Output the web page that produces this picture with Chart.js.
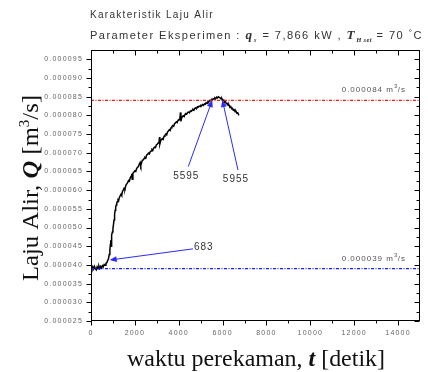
<!DOCTYPE html>
<html><head><meta charset="utf-8">
<script src="https://cdn.jsdelivr.net/npm/chart.js@4/dist/chart.umd.min.js"></script>
<style>html,body{margin:0;padding:0;background:#fff}#wrap{width:428px;height:372px}</style>
</head><body><div id="wrap"><canvas id="c" width="428" height="372"></canvas></div>
<script>
// ---- data ----
const timeSec = [0,40,80,120,160,200,240,280,320,360,400,440,480,520,560,600,640,680,720,760,800,830,860,885,900,915,930,950,975,1000,1025,1050,1075,1100,1125,1150,1175,1200,1230,1260,1290,1330,1370,1400,1430,1470,1510,1550,1590,1630,1670,1710,1750,1790,1830,1860,1880,1910,1950,2000,2040,2080,2120,2160,2200,2240,2270,2300,2340,2380,2420,2460,2500,2540,2580,2620,2660,2700,2740,2780,2820,2860,2900,2940,2980,3020,3060,3100,3125,3140,3170,3210,3250,3290,3330,3370,3410,3450,3490,3530,3570,3610,3650,3690,3730,3770,3810,3850,3890,3930,3970,4010,4050,4080,4100,4130,4170,4210,4250,4290,4330,4370,4410,4450,4490,4530,4570,4610,4650,4690,4730,4770,4810,4850,4890,4930,4970,5010,5050,5090,5130,5170,5210,5250,5290,5330,5370,5410,5450,5490,5530,5570,5610,5650,5690,5730,5770,5810,5850,5890,5930,5970,6010,6050,6090,6130,6170,6210,6250,6290,6330,6370,6410,6450,6490,6530,6570,6610,6650,6690,6730,6760];
const flowRate = [3.93e-5,3.88e-5,3.95e-5,3.89e-5,3.96e-5,3.90e-5,3.87e-5,3.95e-5,3.90e-5,3.97e-5,3.91e-5,3.96e-5,3.92e-5,3.98e-5,3.95e-5,4.01e-5,3.99e-5,4.04e-5,4.06e-5,4.12e-5,4.17e-5,4.28e-5,4.40e-5,4.55e-5,4.66e-5,4.50e-5,4.70e-5,4.80e-5,4.88e-5,4.97e-5,5.08e-5,5.20e-5,5.35e-5,5.46e-5,5.55e-5,5.60e-5,5.65e-5,5.69e-5,5.74e-5,5.72e-5,5.80e-5,5.85e-5,5.89e-5,5.86e-5,5.96e-5,6.00e-5,6.05e-5,6.03e-5,6.13e-5,6.17e-5,6.20e-5,6.26e-5,6.24e-5,6.33e-5,6.37e-5,6.44e-5,6.29e-5,6.45e-5,6.48e-5,6.52e-5,6.50e-5,6.58e-5,6.61e-5,6.63e-5,6.69e-5,6.74e-5,6.66e-5,6.72e-5,6.80e-5,6.81e-5,6.85e-5,6.88e-5,6.86e-5,6.94e-5,6.96e-5,6.99e-5,6.97e-5,7.03e-5,7.05e-5,7.09e-5,7.07e-5,7.13e-5,7.15e-5,7.14e-5,7.21e-5,7.23e-5,7.26e-5,7.28e-5,7.42e-5,7.24e-5,7.31e-5,7.35e-5,7.38e-5,7.36e-5,7.44e-5,7.47e-5,7.50e-5,7.48e-5,7.56e-5,7.58e-5,7.62e-5,7.60e-5,7.67e-5,7.70e-5,7.73e-5,7.71e-5,7.78e-5,7.80e-5,7.83e-5,7.81e-5,7.87e-5,7.89e-5,7.90e-5,8.08e-5,7.84e-5,7.93e-5,7.97e-5,7.99e-5,7.97e-5,8.03e-5,8.05e-5,8.04e-5,8.08e-5,8.09e-5,8.07e-5,8.12e-5,8.11e-5,8.14e-5,8.16e-5,8.14e-5,8.19e-5,8.20e-5,8.18e-5,8.23e-5,8.22e-5,8.25e-5,8.24e-5,8.27e-5,8.26e-5,8.29e-5,8.27e-5,8.31e-5,8.30e-5,8.34e-5,8.32e-5,8.37e-5,8.36e-5,8.40e-5,8.39e-5,8.43e-5,8.41e-5,8.45e-5,8.44e-5,8.47e-5,8.45e-5,8.49e-5,8.47e-5,8.50e-5,8.48e-5,8.47e-5,8.44e-5,8.45e-5,8.40e-5,8.41e-5,8.35e-5,8.37e-5,8.31e-5,8.32e-5,8.27e-5,8.28e-5,8.22e-5,8.24e-5,8.18e-5,8.19e-5,8.14e-5,8.15e-5,8.10e-5,8.11e-5,8.06e-5,8.07e-5,8.02e-5,8.03e-5];
const refHigh = 0.000084;
const refLow = 0.000039;
const refLabels = ['0.000084', '0.000039'];
const xMin = 0, xMax = 15000, xStep = 1000, xLabelStep = 2000, xLabelMax = 14000;
const yMin = 0.000025, yMax = 0.0000975, yStep = 0.0000025;
const arrowLabels = ['683', '5595', '5955'];
const arrowTailT = [4650, 4435, 6700];
const arrowTailQ = [0.0000443, 0.0000663, 0.0000654];
const arrowHeadT = [850, 5530, 5990];
const arrowHeadQ = [0.0000413, 0.0000841, 0.0000841];

const SANS = 'Arial, "Liberation Sans", sans-serif';
const SERIF = '"Liberation Serif", "Times New Roman", serif';

const curve = timeSec.map((t, i) => ({x: t, y: flowRate[i]}));

function rich(ctx, segs, x, y, ls, targetW, align) {
  let w = 0;
  segs.forEach(s => { ctx.font = s.f; ctx.letterSpacing = (s.ls != null ? s.ls : ls) + 'px'; s.w = ctx.measureText(s.t).width; w += s.w; });
  const sx = targetW ? targetW / w : 1;
  ctx.save();
  ctx.translate(x, y);
  ctx.scale(sx, 1);
  let cx = align === 'center' ? -w / 2 : (align === 'right' ? -w : 0);
  ctx.textAlign = 'left'; ctx.textBaseline = 'alphabetic';
  segs.forEach(s => {
    ctx.font = s.f; ctx.letterSpacing = (s.ls != null ? s.ls : ls) + 'px';
    if (s.c) ctx.fillStyle = s.c;
    ctx.fillText(s.t, cx, s.dy || 0);
    cx += s.w;
  });
  ctx.restore();
  ctx.letterSpacing = '0px';
  return w * sx;
}

function arrow(ctx, x1, y1, x2, y2, color) {
  const ang = Math.atan2(y2 - y1, x2 - x1);
  const hl = 7, hw = 3;
  ctx.strokeStyle = color; ctx.fillStyle = color; ctx.lineWidth = 1;
  ctx.beginPath(); ctx.moveTo(x1, y1);
  ctx.lineTo(x2 - Math.cos(ang) * hl * 0.8, y2 - Math.sin(ang) * hl * 0.8); ctx.stroke();
  ctx.beginPath();
  ctx.moveTo(x2, y2);
  ctx.lineTo(x2 - Math.cos(ang) * hl + Math.sin(ang) * hw, y2 - Math.sin(ang) * hl - Math.cos(ang) * hw);
  ctx.lineTo(x2 - Math.cos(ang) * hl - Math.sin(ang) * hw, y2 - Math.sin(ang) * hl + Math.cos(ang) * hw);
  ctx.closePath(); ctx.fill();
}

const deco = {
  id: 'deco',
  beforeDraw(chart) { chart.ctx.letterSpacing = '1.2px'; },
  afterDraw(chart) {
    const ctx = chart.ctx;
    ctx.letterSpacing = '0px';
    const a = chart.chartArea, xs = chart.scales.x, ys = chart.scales.y;
    ctx.save();
    ctx.strokeStyle = '#000'; ctx.lineWidth = 1;
    ctx.strokeRect(a.left + 0.5, a.top + 0.5, a.right - a.left - 1, a.bottom - a.top - 1);
    ctx.beginPath();
    xs.ticks.forEach(t => {
      const v = t.value;
      if (v <= xMin || v >= xMax) return;
      const major = Math.round(v / xStep) % 2 === 0;
      const L = major ? 5 : 3;
      const px = Math.round(xs.getPixelForValue(v)) + 0.5;
      ctx.moveTo(px, a.bottom - 0.5); ctx.lineTo(px, a.bottom - 0.5 + L);
      ctx.moveTo(px, a.top + 0.5); ctx.lineTo(px, a.top + 0.5 + L);
    });
    ctx.moveTo(a.left + 0.5, a.bottom - 0.5); ctx.lineTo(a.left + 0.5, a.bottom + 4.5);
    ys.ticks.forEach(t => {
      const v = t.value;
      if (v >= yMax - 1e-9) return;
      const major = Math.round(v / yStep) % 2 === 0;
      const L = major ? 5 : 3;
      const py = Math.round(ys.getPixelForValue(v)) + 0.5;
      ctx.moveTo(a.left + 0.5 - L, py); ctx.lineTo(a.left + 0.5, py);
      ctx.moveTo(a.right - 0.5 - L, py); ctx.lineTo(a.right - 0.5, py);
    });
    ctx.stroke();

    const blue = '#2a2aff';
    arrowLabels.forEach((lab, i) => {
      const x1 = xs.getPixelForValue(arrowTailT[i]), y1 = ys.getPixelForValue(arrowTailQ[i]);
      const x2 = xs.getPixelForValue(arrowHeadT[i]), y2 = ys.getPixelForValue(arrowHeadQ[i]);
      arrow(ctx, x1, y1, x2, y2, blue);
      ctx.fillStyle = '#333';
      if (i === 0) rich(ctx, [{t: lab, f: '10px ' + SANS}], x1 + 1, y1 + 1, 1, 0, 'left');
      else rich(ctx, [{t: lab, f: '10px ' + SANS}], x1 - 2, y1 + 12, 1, 0, 'center');
    });

    ctx.fillStyle = '#555';
    [refHigh, refLow].forEach((r, i) => {
      const py = ys.getPixelForValue(r) - 8;
      rich(ctx, [
        {t: refLabels[i] + ' m', f: '8px ' + SANS},
        {t: '3', f: '6px ' + SANS, dy: -4, ls: 0.5},
        {t: '/s', f: '8px ' + SANS}
      ], 406, py, 1, 0, 'right');
    });

    ctx.fillStyle = '#333';
    const tf = '10px ' + SANS;
    rich(ctx, [{t: 'Karakteristik Laju Alir', f: tf}], 90, 18, 1.3, 0, 'left');
    rich(ctx, [
      {t: 'Parameter Eksperimen : ', f: tf},
      {t: 'q', f: 'bold italic 12px ' + SERIF},
      {t: 's', f: 'italic 7px ' + SERIF, dy: 3},
      {t: ' = 7,866 kW , ', f: tf},
      {t: 'T', f: 'bold italic 12px ' + SERIF},
      {t: 'H set', f: 'bold italic 6px ' + SERIF, dy: 3, ls: 0.3},
      {t: ' = 70 ', f: tf},
      {t: '°', f: '8px ' + SANS, dy: -4},
      {t: 'C', f: tf}
    ], 90, 38.5, 1.3, 333, 'left');

    ctx.fillStyle = '#111';
    rich(ctx, [
      {t: 'waktu perekaman, ', f: '24px ' + SERIF},
      {t: 't', f: 'bold italic 24px ' + SERIF},
      {t: ' [detik]', f: '24px ' + SERIF}
    ], 256, 366, 0, 258, 'center');
    ctx.save();
    ctx.translate(38, 188); ctx.rotate(-Math.PI / 2);
    rich(ctx, [
      {t: 'Laju Alir, ', f: '23px ' + SERIF},
      {t: 'Q', f: 'bold italic 23px ' + SERIF},
      {t: ' [m', f: '23px ' + SERIF},
      {t: '3', f: '14px ' + SERIF, dy: -9},
      {t: '/s]', f: '23px ' + SERIF}
    ], 0, 0, 0, 186, 'center');
    ctx.restore();
    ctx.restore();
  }
};

new Chart(document.getElementById('c'), {
  type: 'line',
  data: {
    datasets: [
      {data: [{x: xMin, y: refHigh}, {x: xMax, y: refHigh}], borderColor: '#ff1a1a', borderWidth: 1.2, borderDash: [3, 1.5, 1, 1.5], pointRadius: 0},
      {data: [{x: xMin, y: refLow}, {x: xMax, y: refLow}], borderColor: '#1a1aff', borderWidth: 1.2, borderDash: [3, 1.5, 1, 1.5], pointRadius: 0},
      {data: curve, borderColor: '#000', borderWidth: 1.5, pointRadius: 0, tension: 0}
    ]
  },
  options: {
    responsive: false, animation: false, devicePixelRatio: 1,
    layout: {padding: {top: 50, right: 6, left: 0, bottom: 0}},
    plugins: {legend: {display: false}, tooltip: {enabled: false}, title: {display: false}},
    scales: {
      x: {
        type: 'linear', min: xMin, max: xMax,
        grid: {display: false, drawTicks: false}, border: {display: false},
        ticks: {
          stepSize: xStep, autoSkip: false, maxRotation: 0, padding: 8,
          font: {family: SANS, size: 7}, color: '#666',
          callback: v => (Math.round(v) % xLabelStep === 0 && v <= xLabelMax) ? String(Math.round(v)) : ''
        },
        afterFit(s) { s.height = 51; }
      },
      y: {
        type: 'linear', min: yMin, max: yMax,
        grid: {display: false, drawTicks: false}, border: {display: false},
        ticks: {
          stepSize: yStep, autoSkip: false, padding: 8,
          font: {family: SANS, size: 7}, color: '#666',
          callback: v => (Math.round(v / yStep) % 2 === 0) ? v.toFixed(6) : ''
        },
        afterFit(s) { s.width = 91; }
      }
    }
  },
  plugins: [deco]
});
</script>
</body></html>
